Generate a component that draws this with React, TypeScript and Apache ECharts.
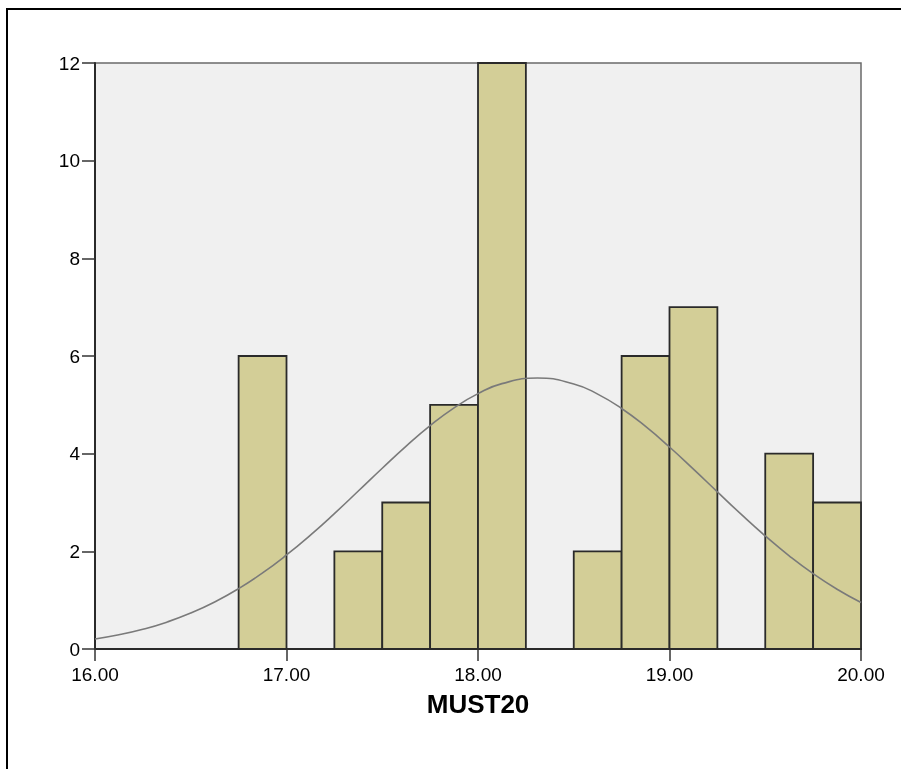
import React, { useEffect, useRef } from "react";
import * as echarts from "echarts";

const binStarts = [16.75, 17.25, 17.5, 17.75, 18.0, 18.5, 18.75, 19.0, 19.5, 19.75];
const binEnds = [17.0, 17.5, 17.75, 18.0, 18.25, 18.75, 19.0, 19.25, 19.75, 20.0];
const counts = [6, 2, 3, 5, 12, 2, 6, 7, 4, 3];

const curveX = [
  16.0, 16.125, 16.25, 16.375, 16.5, 16.625, 16.75, 16.875, 17.0, 17.125, 17.25, 17.375, 17.5, 17.625, 17.75, 17.875,
  18.0, 18.125, 18.31, 18.5, 18.625, 18.75, 18.875, 19.0, 19.125, 19.25, 19.375, 19.5, 19.625, 19.75, 19.875, 20.0,
];
const curveY = [
  0.206, 0.291, 0.404, 0.55, 0.735, 0.962, 1.236, 1.557, 1.925, 2.332, 2.773, 3.235, 3.702, 4.155, 4.573, 4.938,
  5.23, 5.434, 5.55, 5.427, 5.22, 4.925, 4.557, 4.136, 3.683, 3.218, 2.756, 2.316, 1.909, 1.543, 1.224, 0.952,
];

const xTicks = [16, 17, 18, 19, 20];
const yTicks = [0, 2, 4, 6, 8, 10, 12];
const xTitle = "MUST20";

export default function App() {
  const ref = useRef<HTMLDivElement>(null);
  useEffect(() => {
    if (!ref.current) return;
    const chart = echarts.init(ref.current, undefined, { renderer: "svg" });
    const barData = binStarts.map((s, i) => [s, binEnds[i], counts[i]]);
    const lineData = curveX.map((x, i) => [x, curveY[i]]);
    const font = "'Liberation Sans', Arial, sans-serif";
    chart.setOption({
      animation: false,
      grid: {
        left: 95,
        top: 63,
        right: 40,
        bottom: 120,
        show: true,
        backgroundColor: "#F0F0F0",
        borderColor: "#6a6a6a",
        borderWidth: 1.5,
      },
      xAxis: {
        type: "value",
        min: xTicks[0],
        max: xTicks[xTicks.length - 1],
        interval: 1,
        name: xTitle,
        nameLocation: "middle",
        nameGap: 42,
        nameTextStyle: { fontFamily: font, fontSize: 26, fontWeight: "bold", color: "#000" },
        axisLine: { show: true, onZero: false, lineStyle: { color: "#2a2a2a", width: 2 } },
        axisTick: { show: true, inside: false, length: 12, lineStyle: { color: "#333", width: 1.5 } },
        axisLabel: {
          margin: 16,
          fontFamily: font,
          fontSize: 19,
          color: "#000",
          formatter: (v: number) => v.toFixed(2),
        },
        splitLine: { show: false },
      },
      yAxis: {
        type: "value",
        min: yTicks[0],
        max: yTicks[yTicks.length - 1],
        interval: 2,
        axisLine: { show: true, onZero: false, lineStyle: { color: "#2a2a2a", width: 2 } },
        axisTick: { show: true, inside: false, length: 13, lineStyle: { color: "#333", width: 1.5 } },
        axisLabel: { margin: 15, fontFamily: font, fontSize: 19, color: "#000" },
        splitLine: { show: false },
      },
      series: [
        {
          type: "custom",
          data: barData,
          encode: { x: [0, 1], y: 2 },
          z: 2,
          renderItem: (params: any, api: any) => {
            const p0 = api.coord([api.value(0), api.value(2)]);
            const p1 = api.coord([api.value(1), 0]);
            return {
              type: "rect",
              shape: { x: p0[0], y: p0[1], width: p1[0] - p0[0], height: p1[1] - p0[1] },
              style: { fill: "#D3CE97", stroke: "#2a2a2a", lineWidth: 1.8 },
            };
          },
        },
        {
          type: "line",
          data: lineData,
          smooth: 0.5,
          showSymbol: false,
          z: 3,
          lineStyle: { color: "#7a7a7a", width: 1.6 },
        },
      ],
    });
    return () => chart.dispose();
  }, []);
  return (
    <>
      <div
        style={{
          position: "fixed",
          left: 6,
          top: 8,
          width: 895,
          height: 761,
          boxSizing: "border-box",
          borderTop: "2px solid #000",
          borderLeft: "2px solid #000",
        }}
      />
      <div ref={ref} style={{ position: "fixed", left: 0, top: 0, width: 901, height: 769 }} />
    </>
  );
}
